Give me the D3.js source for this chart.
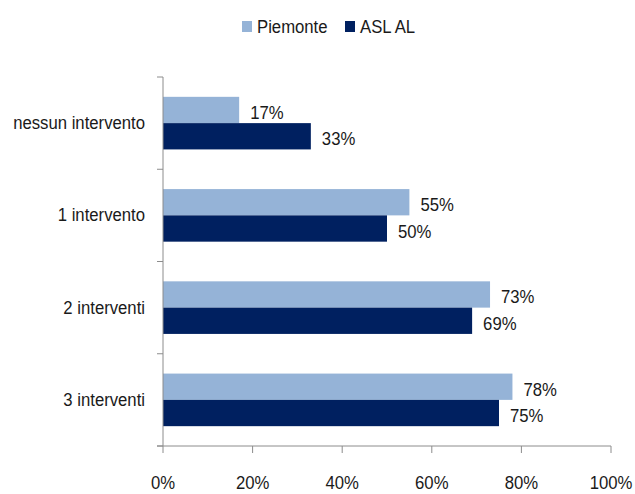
<!DOCTYPE html>
<html>
<head>
<meta charset="utf-8">
<script src="https://cdn.jsdelivr.net/npm/d3@7"></script>
<style>
  body { margin: 0; background: #fff; }
  text { font-family: "Liberation Sans", Arial, sans-serif; font-size: 19px; fill: #1a1a1a; }
</style>
</head>
<body>
<div id="chart"></div>
<script>
var categories = ["nessun intervento", "1 intervento", "2 interventi", "3 interventi"];
var seriesNames = ["Piemonte", "ASL AL"];
var piemonte = [17, 55, 73, 78];
var aslAl = [33, 50, 69, 75];
var xTicks = [0, 20, 40, 60, 80, 100];

var colors = ["#95b3d7", "#002060"];
var w = 635, h = 494;
var mLeft = 163, mRight = 611, mTop = 77, mBottom = 446;
var squeeze = 0.88; // narrow look of the original font

var svg = d3.select("#chart").append("svg").attr("width", w).attr("height", h);

function place(x, y) { return "translate(" + x + "," + y + ") scale(" + squeeze + ",1)"; }

var x = d3.scaleLinear().domain([0, 100]).range([mLeft, mRight]);
var y = d3.scaleBand().domain(categories).range([mTop, mBottom]).paddingInner(0.43).paddingOuter(0.215);
var ySub = d3.scaleBand().domain(seriesNames).range([0, y.bandwidth()]);

var data = categories.map(function(c, i) {
  return { cat: c, vals: [piemonte[i], aslAl[i]] };
});

// bars
var grp = svg.selectAll(".grp").data(data).enter().append("g")
  .attr("transform", function(d) { return "translate(0," + y(d.cat) + ")"; });

grp.selectAll("rect").data(function(d) { return d.vals; }).enter().append("rect")
  .attr("x", x(0))
  .attr("y", function(d, i) { return ySub(seriesNames[i]); })
  .attr("width", function(d) { return x(d) - x(0); })
  .attr("height", ySub.bandwidth())
  .attr("fill", function(d, i) { return colors[i]; });

grp.selectAll(".lbl").data(function(d) { return d.vals; }).enter().append("text")
  .attr("class", "lbl")
  .attr("transform", function(d, i) {
    return place(x(d) + 11, ySub(seriesNames[i]) + ySub.bandwidth() / 2 + 9);
  })
  .text(function(d) { return d + "%"; });

// y axis
svg.append("line").attr("x1", mLeft).attr("x2", mLeft).attr("y1", mTop).attr("y2", mBottom)
  .attr("stroke", "#8c8c8c");
d3.range(categories.length + 1).forEach(function(i) {
  var yy = mTop + i * (mBottom - mTop) / categories.length;
  svg.append("line").attr("x1", mLeft - 6).attr("x2", mLeft).attr("y1", yy).attr("y2", yy)
    .attr("stroke", "#8c8c8c");
});
svg.selectAll(".cat").data(categories).enter().append("text")
  .attr("transform", function(d) { return place(145, y(d) + y.bandwidth() / 2 + 6); })
  .attr("text-anchor", "end")
  .text(function(d) { return d; });

// x axis
svg.append("line").attr("x1", mLeft - 6).attr("x2", mRight).attr("y1", mBottom).attr("y2", mBottom)
  .attr("stroke", "#8c8c8c");
svg.selectAll(".xt").data(xTicks).enter().append("line")
  .attr("x1", function(d) { return x(d); }).attr("x2", function(d) { return x(d); })
  .attr("y1", mBottom).attr("y2", mBottom + 7)
  .attr("stroke", "#8c8c8c");
svg.selectAll(".xl").data(xTicks).enter().append("text")
  .attr("transform", function(d) { return place(x(d), 489); })
  .attr("text-anchor", "middle")
  .text(function(d) { return d + "%"; });

// legend
var legX = [242, 345];
seriesNames.forEach(function(s, i) {
  svg.append("rect").attr("x", legX[i]).attr("y", 21).attr("width", 10).attr("height", 11)
    .attr("fill", colors[i]);
  svg.append("text").attr("transform", place(legX[i] + 15, 33)).text(s);
});
</script>
</body>
</html>
